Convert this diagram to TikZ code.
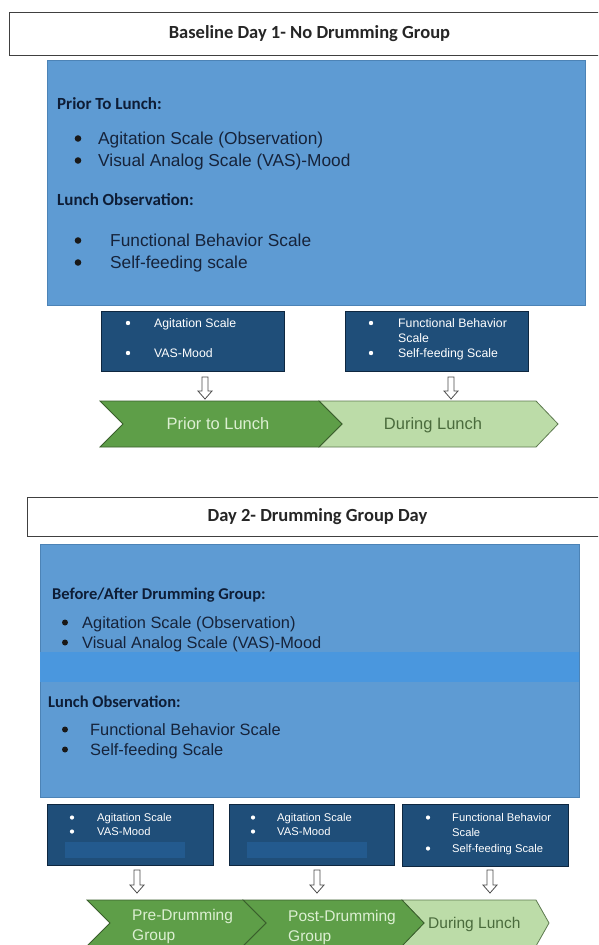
\documentclass[tikz,border=0pt]{standalone}
\usepackage{fontspec}
\setmainfont{Liberation Sans}
\newfontfamily\calfont{Carlito}
\usetikzlibrary{calc}
\definecolor{bluebox}{HTML}{5E9BD3}
\definecolor{bandblue}{HTML}{4A97DE}
\definecolor{panelborder}{HTML}{4C83B6}
\definecolor{darkbox}{HTML}{1F4E79}
\definecolor{darkboxborder}{HTML}{0E2740}
\definecolor{stripblue}{HTML}{235A8E}
\definecolor{darkgreen}{HTML}{5E9E48}
\definecolor{darkgreenline}{HTML}{3A5F2C}
\definecolor{lightgreen}{HTML}{BCDCA8}
\definecolor{lightgreenline}{HTML}{5E7A50}
\definecolor{ontextdark}{HTML}{DCEFD2}
\definecolor{ontextlight}{HTML}{4A6B3C}
\definecolor{bodytext}{HTML}{16233A}
\definecolor{headtext}{HTML}{0E1D36}
\newcommand\harrow[3]{\draw[harrowstyle] (#1-3,#2) -- (#1+3,#2) -- (#1+3,#3-8) -- (#1+7,#3-8) -- (#1,#3) -- (#1-7,#3-8) -- (#1-3,#3-8) -- cycle;}
\begin{document}
\begin{tikzpicture}[x=1pt,y=-1pt,
  titlebox/.style={draw=black!75, line width=0.9pt, fill=white, anchor=north west, inner sep=0pt,
    font=\calfont\bfseries\fontsize{18.5}{22}\selectfont, text=black!85},
  panel/.style={draw=panelborder, line width=0.6pt, fill=bluebox},
  smallbox/.style={draw=darkboxborder, line width=0.8pt, fill=darkbox},
  headA/.style={anchor=base west, inner sep=0pt, font=\calfont\bfseries\fontsize{17}{20}\selectfont, text=headtext},
  headB/.style={anchor=base west, inner sep=0pt, font=\calfont\bfseries\fontsize{16.5}{20}\selectfont, text=headtext},
  bodyA/.style={anchor=base west, inner sep=0pt, font=\fontsize{17.3}{20}\selectfont, text=bodytext},
  bodyB/.style={anchor=base west, inner sep=0pt, font=\fontsize{16.4}{20}\selectfont, text=bodytext},
  dotA/.style={circle, fill=black!90, inner sep=0pt, minimum size=6.6pt},
  dotB/.style={circle, fill=black!90, inner sep=0pt, minimum size=6pt},
  smallA/.style={anchor=base west, inner sep=0pt, font=\fontsize{12.3}{14}\selectfont, text=white},
  smallB/.style={anchor=base west, inner sep=0pt, font=\fontsize{11.2}{13}\selectfont, text=white},
  sdotA/.style={circle, fill=white, inner sep=0pt, minimum size=4.4pt},
  sdotB/.style={circle, fill=white, inner sep=0pt, minimum size=4.2pt},
  chevdark/.style={fill=darkgreen, draw=darkgreenline, line width=0.8pt, line join=miter},
  chevlight/.style={fill=lightgreen, draw=lightgreenline, line width=0.8pt, line join=miter},
  chevtxtA/.style={anchor=base, inner sep=0pt, font=\fontsize{16.5}{20}\selectfont},
  chevtxtB/.style={anchor=base west, inner sep=0pt, font=\fontsize{15.5}{20}\selectfont},
  harrowstyle/.style={fill=white, draw=black!70, line width=0.8pt, line join=miter}
]
\useasboundingbox (0,0) rectangle (598,945);
\clip (0,0) rectangle (598,945);
\fill[white] (0,0) rectangle (598,945);

% ================= Day 1 =================
\node[titlebox, minimum width=600pt, minimum height=43pt] (t1) at (9,12) {Baseline Day 1- No Drumming Group};

\draw[panel] (47,60) rectangle (585,305);
\node[headA] (h1) at (57,109) {Prior To Lunch:};
\node[dotA] (d1) at (78,138.5) {};
\node[bodyA] (i1) at (98,144) {Agitation Scale (Observation)};
\node[dotA] (d2) at (78,160.5) {};
\node[bodyA] (i2) at (98,166) {Visual Analog Scale (VAS)-Mood};
\node[headA] (h2) at (57,205) {Lunch Observation:};
\node[dotA] (d3) at (78,240.5) {};
\node[bodyA] (i3) at (110,246) {Functional Behavior Scale};
\node[dotA] (d4) at (78,262.5) {};
\node[bodyA] (i4) at (110,268) {Self-feeding scale};

% small dark boxes
\draw[smallbox] (101,311) rectangle (284,371);
\node[sdotA] (sa1) at (128,323) {};
\node[smallA] (ta1) at (154,327) {Agitation Scale};
\node[sdotA] (sa2) at (128,353) {};
\node[smallA] (ta2) at (154,357) {VAS-Mood};

\draw[smallbox] (345,311) rectangle (528,371);
\node[sdotA] (sb1) at (371,323) {};
\node[smallA] (tb1) at (398,327) {Functional Behavior};
\node[smallA] (tb1b) at (398,342) {Scale};
\node[sdotA] (sb2) at (371,353) {};
\node[smallA] (tb2) at (398,357) {Self-feeding Scale};

\harrow{205}{377}{399}
\harrow{451}{377}{399}

% chevrons
\draw[chevlight] (319,401) -- (536,401) -- (558,424) -- (536,447) -- (319,447) -- (342,424) -- cycle;
\draw[chevdark] (100,401) -- (319,401) -- (342,424) -- (319,447) -- (100,447) -- (123,424) -- cycle;
\node[chevtxtA, text=ontextdark] (c1) at (218,429.5) {Prior to Lunch};
\node[chevtxtA, text=ontextlight] (c2) at (433,429.5) {During Lunch};

% ================= Day 2 =================
\node[titlebox, minimum width=580pt, minimum height=39pt] (t2) at (27,497) {Day 2- Drumming Group Day};

\draw[panel] (40,544) rectangle (579,797);
\fill[bandblue] (40.3,652) rectangle (578.7,682);
\node[headB] (h3) at (52,599) {Before/After Drumming Group:};
\node[dotB] (d5) at (65,622.5) {};
\node[bodyB] (i5) at (82,628) {Agitation Scale (Observation)};
\node[dotB] (d6) at (65,642.5) {};
\node[bodyB] (i6) at (82,648) {Visual Analog Scale (VAS)-Mood};
\node[headB] (h4) at (48,707) {Lunch Observation:};
\node[dotB] (d7) at (65,729.5) {};
\node[bodyB] (i7) at (90,735) {Functional Behavior Scale};
\node[dotB] (d8) at (65,749.5) {};
\node[bodyB] (i8) at (90,755) {Self-feeding Scale};

\draw[smallbox] (47,804) rectangle (213,865);
\fill[stripblue] (65,842) rectangle (185,858);
\node[sdotB] (sc1) at (72,817.5) {};
\node[smallB] (tc1) at (97,821) {Agitation Scale};
\node[sdotB] (sc2) at (72,831.5) {};
\node[smallB] (tc2) at (97,835) {VAS-Mood};

\draw[smallbox] (229,804) rectangle (394,865);
\fill[stripblue] (247,842) rectangle (367,858);
\node[sdotB] (sd1) at (253,817.5) {};
\node[smallB] (td1) at (277,821) {Agitation Scale};
\node[sdotB] (sd2) at (253,831.5) {};
\node[smallB] (td2) at (277,835) {VAS-Mood};

\draw[smallbox] (402,804) rectangle (568,866);
\node[sdotB] (se1) at (428,817.5) {};
\node[smallB] (te1) at (452,821) {Functional Behavior};
\node[smallB] (te1b) at (452,836) {Scale};
\node[sdotB] (se2) at (428,848.5) {};
\node[smallB] (te2) at (452,852) {Self-feeding Scale};

\harrow{137}{870}{893}
\harrow{317}{870}{893}
\harrow{490}{870}{893}

\draw[chevlight] (402,900) -- (536,900) -- (549,923) -- (536,946) -- (402,946) -- (424,923) -- cycle;
\draw[chevdark] (243,900) -- (402,900) -- (424,923) -- (402,946) -- (243,946) -- (266,923) -- cycle;
\draw[chevdark] (87,900) -- (243,900) -- (266,923) -- (243,946) -- (87,946) -- (110,923) -- cycle;
\node[chevtxtB, text=ontextdark] (e1) at (132,920.5) {Pre-Drumming};
\node[chevtxtB, text=ontextdark] (e1b) at (132,940.5) {Group};
\node[chevtxtB, text=ontextdark] (e2) at (288,921.5) {Post-Drumming};
\node[chevtxtB, text=ontextdark] (e2b) at (288,941) {Group};
\node[chevtxtB, text=ontextlight] (e3) at (428,928.5) {During Lunch};
\end{tikzpicture}
\end{document}
